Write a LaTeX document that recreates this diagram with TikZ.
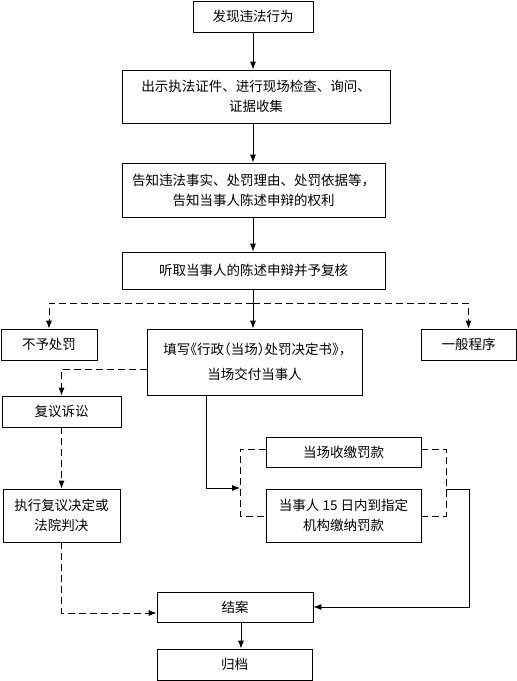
\documentclass[tikz,border=0pt]{standalone}
\usepackage{fontspec}
\newfontfamily\cjk{Noto Sans CJK SC}
\newfontfamily\cjkhalf[RawFeature=+halt]{Noto Sans CJK SC}
\usetikzlibrary{
		calc,
		positioning,
		arrows.meta
	}
\tikzset{
		>={Latex[length=8pt,width=6pt]}
	}
\tikzset{
		box/.style={draw=black, rectangle, align=center, inner sep=0pt,
			font=\cjk\fontsize{13.5}{20}\selectfont},
		arr/.style={->, draw=black},
		dasharr/.style={->, draw=black, dash pattern=on 7pt off 4pt},
		dashline/.style={draw=black, dash pattern=on 7pt off 4pt}
	}

\begin{document}
\begin{tikzpicture}[x=1pt, y=-1pt, line width=0.8pt]
		\useasboundingbox (0,0) rectangle (517,681);
		% main column
		\node[box, minimum width=120pt, minimum height=31pt] (find) at (253, 16.5) {发现违法行为};
		\node[box, minimum width=268pt, minimum height=53pt] (check) at (256, 96.5) {出示执法证件、进行现场检查、询问、\\证据收集};
		\node[box, minimum width=263pt, minimum height=54pt] (inform) at (253.5, 190) {告知违法事实、处罚理由、处罚依据等，\\告知当事人陈述申辩的权利};
		\node[box, minimum width=263pt, minimum height=37pt] (hear) at (253.5, 270.5) {听取当事人的陈述申辩并予复核};
		\node[box, minimum width=96pt, minimum height=31pt] (nopen) at (49, 344.5) {不予处罚};
		\node[box, minimum width=215pt, minimum height=66pt, font=\cjkhalf\fontsize{13.5}{25}\selectfont] (decide) at (254.5, 362) {填写《行政（当场）处罚决定书》，\\当场交付当事人};
		\node[box, minimum width=95pt, minimum height=31pt] (general) at (468.5, 344.5) {一般程序};
		% left branch
		\node[box, minimum width=119pt, minimum height=31pt] (review) at (61.5, 411.5) {复议诉讼};
		\node[box, minimum width=117pt, minimum height=53pt] (execute) at (61.5, 515.5) {执行复议决定或\\法院判决};
		% fines
		\node[box, minimum width=155pt, minimum height=30pt] (payhere) at (343.5, 452) {当场收缴罚款};
		\node[box, minimum width=155pt, minimum height=53pt] (payagency) at (343.5, 515.5) {当事人 15 日内到指定\\机构缴纳罚款};
		% end
		\node[box, minimum width=156pt, minimum height=30pt] (close) at (235, 607) {结案};
		\node[box, minimum width=155pt, minimum height=31pt] (archive) at (234.5, 664.5) {归档};

		\coordinate (split) at (253, 303);
		\coordinate (bl1) at (240, 449);
		\coordinate (bl2) at (240, 516);
		\coordinate (bin) at (240, 488);
		\coordinate (br1) at (446, 449);
		\coordinate (br2) at (446, 516);
		\coordinate (bout) at (446, 489);
		\coordinate (corner) at (469, 489);

		\draw[arr] (find.south) -- (find.south |- check.north);
		\draw[arr] (check.south -| find.south) -- (inform.north -| find.south);
		\draw[arr] (inform.south -| find.south) -- (hear.north -| find.south);
		\draw[arr] (hear.south -| find.south) -- (decide.north -| find.south);
		\draw[dasharr] (split) -| (nopen.north);
		\draw[dasharr] (split) -| (general.north);
		\draw[dasharr] ([yshift=-7pt]decide.west) -| (review.north);
		\draw[dasharr] (review.south) -- (execute.north);
		\draw[dasharr] (execute.south) |- ([yshift=-6pt]close.west);
		\draw[arr] ([xshift=-48.5pt]decide.south) |- (bin);
		\draw[dashline] (bl1 -| payhere.west) -- (bl1) -- (bl2) -- (bl2 -| payagency.west);
		\draw[dashline] (br1 -| payhere.east) -- (br1) -- (br2) -- (br2 -| payagency.east);
		\draw[arr] (bout) -- (corner) |- (close.east);
		\draw[arr] ([xshift=6pt]close.south) -- ([xshift=6pt]close.south |- archive.north);
\end{tikzpicture}
\end{document}
